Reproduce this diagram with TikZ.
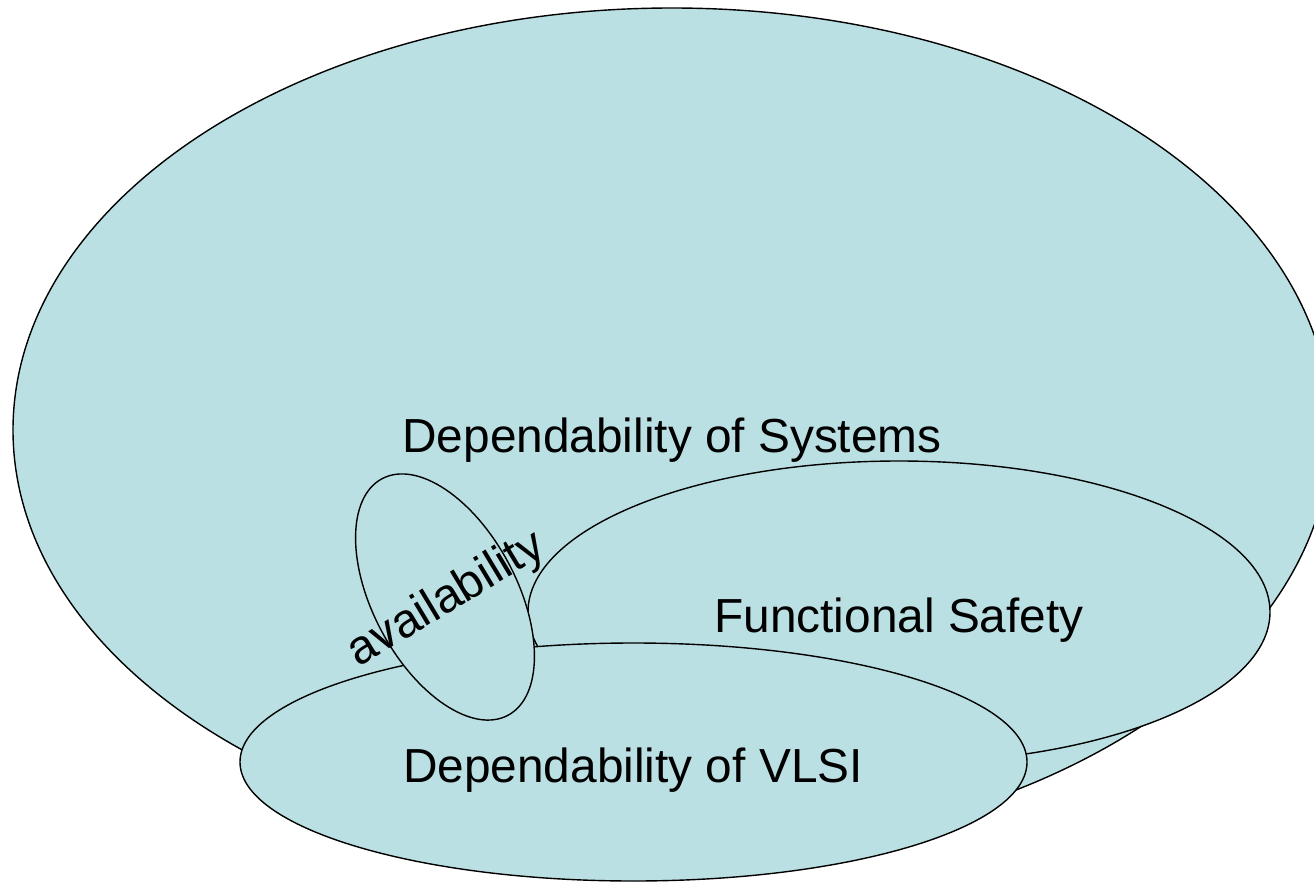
\documentclass[tikz,border=0pt]{standalone}
\usepackage{fontspec}
\setmainfont{Liberation Sans}
\definecolor{setfill}{RGB}{187,224,227}
\tikzset{
  setshape/.style={draw=black, line width=1.4pt, fill=setfill},
  setlabel/.style={anchor=base, inner sep=0pt, font=\fontsize{47.8}{57}\selectfont}
}
\begin{document}
\begin{tikzpicture}[x=1pt,y=-1pt]
\useasboundingbox (0,0) rectangle (1314,883);
% Dependability of Systems
\draw[setshape] (672,430) ellipse [x radius=659pt, y radius=422pt];
% Functional Safety
\draw[setshape] (899,612) ellipse [x radius=371pt, y radius=151pt];
% Dependability of VLSI
\draw[setshape] (633.5,762) ellipse [x radius=393.5pt, y radius=119pt];
% availability
\draw[setshape, rotate around={-62:(445,597)}] (445,597) ellipse [x radius=134pt, y radius=72pt];
\node[setlabel] (sys) at (672,452) {Dependability of Systems};
\node[setlabel] (fs) at (899,632) {Functional Safety};
\node[setlabel] (vlsi) at (633,782) {Dependability of VLSI};
\node[setlabel, anchor=center, rotate=31] (avail) at (447,600) {availability};
\end{tikzpicture}
\end{document}
